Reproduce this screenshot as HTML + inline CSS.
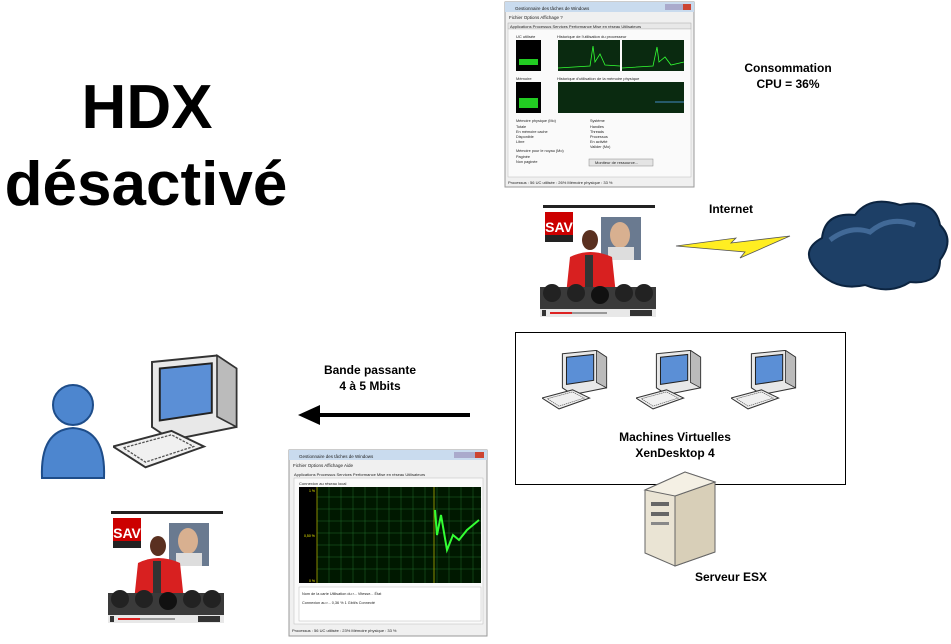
<!DOCTYPE html>
<html><head><meta charset="utf-8"><style>
html,body{margin:0;padding:0;background:#fff;width:951px;height:644px;overflow:hidden}
svg{display:block}
text{font-family:"Liberation Sans",Arial,sans-serif}
</style></head><body>
<svg width="951" height="644" viewBox="0 0 951 644" xmlns="http://www.w3.org/2000/svg">
<defs>
<symbol id="vid" viewBox="0 0 116 116">
<rect x="0" y="0" width="116" height="116" fill="#fff"/>
<rect x="3" y="0" width="112" height="3" fill="#222"/>
<rect x="5" y="7" width="28" height="30" fill="#c00"/>
<text x="19" y="27" font-size="14" font-weight="bold" fill="#fff" text-anchor="middle">SAV</text>
<rect x="5" y="30" width="28" height="7" fill="#222"/>
<rect x="61" y="12" width="40" height="43" fill="#6a7a90"/>
<ellipse cx="80" cy="30" rx="10" ry="13" fill="#d8b090"/>
<rect x="68" y="42" width="26" height="13" fill="#ddd"/>
<ellipse cx="50" cy="35" rx="8" ry="10" fill="#5a3020"/>
<path d="M30 52 Q50 42 72 52 L76 90 L26 90 Z" fill="#d82020"/>
<rect x="45" y="50" width="8" height="40" fill="#333"/>
<rect x="0" y="82" width="116" height="22" fill="#3a3a3a"/>
<circle cx="12" cy="88" r="9" fill="#222"/><circle cx="36" cy="88" r="9" fill="#222"/><circle cx="60" cy="90" r="9" fill="#111"/><circle cx="84" cy="88" r="9" fill="#222"/><circle cx="104" cy="88" r="9" fill="#222"/>
<rect x="0" y="104" width="116" height="8" fill="#e8e8e8"/>
<rect x="10" y="107" width="22" height="2" fill="#d22"/>
<rect x="32" y="107" width="35" height="2" fill="#999"/>
<rect x="90" y="105" width="22" height="6" fill="#333"/>
<rect x="2" y="105" width="4" height="6" fill="#333"/>
</symbol>
<symbol id="pc" viewBox="0 0 100 90">
<path d="M30 5 L80 0 L95 10 L95 55 L45 65 L30 55 Z" fill="#e8e8e8" stroke="#333" stroke-width="1.5"/>
<path d="M36 10 L76 6 L76 44 L36 50 Z" fill="#5b8fd6" stroke="#222" stroke-width="1.5"/>
<path d="M80 0 L95 10 L95 55 L80 47 Z" fill="#bbb" stroke="#333" stroke-width="1.2"/>
<path d="M0 70 L45 58 L70 70 L25 86 Z" fill="#f0f0f0" stroke="#333" stroke-width="1.5"/>
<path d="M8 71 L45 61 L62 70 L25 82 Z" fill="none" stroke="#555" stroke-width="1" stroke-dasharray="2 1"/>
</symbol>
</defs>

<text x="147" y="128" font-size="62" font-weight="bold" text-anchor="middle" fill="#000">HDX</text>
<text x="146" y="205" font-size="62" font-weight="bold" text-anchor="middle" fill="#000">désactivé</text>

<!-- top task manager -->
<g transform="translate(505,2)">
<rect width="189" height="185" fill="#f0f0f0" stroke="#999"/>
<rect width="189" height="10" fill="#c9dbee"/>
<rect x="160" y="2" width="26" height="6" fill="#aac"/><rect x="178" y="2" width="8" height="6" fill="#c43"/>
<text x="10" y="8" font-size="4.5" fill="#222">Gestionnaire des tâches de Windows</text>
<text x="4" y="17" font-size="4.5" fill="#222">Fichier  Options  Affichage  ?</text>
<rect x="3" y="21" width="183" height="6" fill="#e8e8e8" stroke="#aaa" stroke-width="0.5"/>
<text x="5" y="26" font-size="4" fill="#222">Applications  Processus  Services  Performance  Mise en réseau  Utilisateurs</text>
<rect x="3" y="27" width="183" height="148" fill="#fafafa" stroke="#bbb" stroke-width="0.5"/>
<text x="11" y="36" font-size="4" fill="#222">UC utilisée</text>
<text x="52" y="36" font-size="4" fill="#222">Historique de l'utilisation du processeur</text>
<rect x="11" y="38" width="25" height="31" fill="#000"/>
<rect x="14" y="57" width="19" height="6" fill="#2c2"/>
<rect x="53" y="38" width="62" height="31" fill="#0a2a10"/>
<rect x="117" y="38" width="62" height="31" fill="#0a2a10"/>
<polyline points="53,66 85,64 88,44 90,60 95,52 100,63 115,64" fill="none" stroke="#3f3" stroke-width="0.8"/>
<polyline points="117,66 148,64 152,45 154,60 160,55 166,63 179,60" fill="none" stroke="#3f3" stroke-width="0.8"/>
<text x="11" y="78" font-size="4" fill="#222">Mémoire</text>
<text x="52" y="78" font-size="4" fill="#222">Historique d'utilisation de la mémoire physique</text>
<rect x="11" y="80" width="25" height="31" fill="#000"/>
<rect x="14" y="96" width="19" height="10" fill="#2c2"/>
<rect x="53" y="80" width="126" height="31" fill="#0a2a10"/>
<line x1="150" y1="100" x2="179" y2="100" stroke="#5af" stroke-width="0.8"/>
<g font-size="3.8" fill="#222">
<text x="11" y="120">Mémoire physique (Mo)</text>
<text x="11" y="126">Totale</text><text x="11" y="131">En mémoire cache</text><text x="11" y="136">Disponible</text><text x="11" y="141">Libre</text>
<text x="11" y="150">Mémoire pour le noyau (Mo)</text><text x="11" y="156">Paginée</text><text x="11" y="161">Non paginée</text>
<text x="85" y="120">Système</text><text x="85" y="126">Handles</text><text x="85" y="131">Threads</text><text x="85" y="136">Processus</text><text x="85" y="141">En activité</text><text x="85" y="146">Valider (Mo)</text>
</g>
<rect x="84" y="157" width="64" height="7" fill="#e4e4e4" stroke="#888" stroke-width="0.5"/>
<text x="90" y="162" font-size="4" fill="#222">Moniteur de ressource...</text>
<text x="3" y="182" font-size="4" fill="#222">Processus : 56     UC utilisée : 26%       Mémoire physique : 33 %</text>
</g>

<text x="788" y="72" font-size="12" font-weight="bold" text-anchor="middle">Consommation</text>
<text x="788" y="88" font-size="12" font-weight="bold" text-anchor="middle">CPU = 36%</text>

<use href="#vid" x="540" y="205" width="116" height="116"/>
<use href="#vid" x="108" y="511" width="116" height="116"/>

<text x="731" y="213" font-size="12" font-weight="bold" text-anchor="middle">Internet</text>
<path d="M676 246 L736 238 L731 243 L790 236 L740 258 L745 252 Z" fill="#ffee22" stroke="#555" stroke-width="0.8"/>

<!-- cloud -->
<path d="M815 268 Q800 250 822 238 Q825 212 855 215 Q870 195 900 205 Q935 198 940 225 Q955 240 940 260 Q940 285 910 282 Q890 295 865 285 Q835 292 815 268 Z" fill="#1d3f66" stroke="#0c2440" stroke-width="2"/>
<path d="M830 240 Q850 225 870 232 Q890 215 915 225" fill="none" stroke="#5a86b8" stroke-width="5" opacity="0.6"/>

<text x="370" y="374" font-size="12" font-weight="bold" text-anchor="middle">Bande passante</text>
<text x="370" y="390" font-size="12" font-weight="bold" text-anchor="middle">4 à 5 Mbits</text>
<line x1="318" y1="415" x2="470" y2="415" stroke="#000" stroke-width="4"/>
<path d="M298 415 L320 405 L320 425 Z" fill="#000"/>

<rect x="515.5" y="332.5" width="330" height="152" fill="#fff" stroke="#000"/>
<use href="#pc" x="542" y="350" width="68" height="62"/>
<use href="#pc" x="636" y="350" width="68" height="62"/>
<use href="#pc" x="731" y="350" width="68" height="62"/>
<text x="675" y="441" font-size="12" font-weight="bold" text-anchor="middle">Machines Virtuelles</text>
<text x="675" y="457" font-size="12" font-weight="bold" text-anchor="middle">XenDesktop 4</text>

<!-- server -->
<path d="M645 490 L685 472 L715 482 L715 552 L675 566 L645 553 Z" fill="#eae4d4" stroke="#666"/>
<path d="M675 496 L715 482 L715 552 L675 566 Z" fill="#d8cfb8" stroke="#666"/>
<path d="M645 490 L685 472 L715 482 L675 496 Z" fill="#f4f0e4" stroke="#666"/>
<rect x="651" y="502" width="18" height="4" fill="#666"/><rect x="651" y="512" width="18" height="4" fill="#666"/><rect x="651" y="522" width="18" height="3" fill="#888"/>
<text x="731" y="581" font-size="12" font-weight="bold" text-anchor="middle">Serveur ESX</text>

<!-- person -->
<circle cx="73" cy="405" r="20" fill="#4d86cf" stroke="#1e4d8a" stroke-width="2"/>
<path d="M42 478 Q40 430 73 428 Q106 430 104 478 Z" fill="#4d86cf" stroke="#1e4d8a" stroke-width="2"/>
<use href="#pc" x="113" y="344" width="130" height="140"/>

<!-- bottom task manager -->
<g transform="translate(289,450)">
<rect width="198" height="186" fill="#f0f0f0" stroke="#999"/>
<rect width="198" height="10" fill="#c9dbee"/>
<rect x="165" y="2" width="30" height="6" fill="#aac"/><rect x="186" y="2" width="9" height="6" fill="#c43"/>
<text x="10" y="8" font-size="4.5" fill="#222">Gestionnaire des tâches de Windows</text>
<text x="4" y="17" font-size="4.5" fill="#222">Fichier  Options  Affichage  Aide</text>
<text x="5" y="26" font-size="4" fill="#222">Applications  Processus  Services  Performance  Mise en réseau  Utilisateurs</text>
<rect x="5" y="28" width="189" height="146" fill="#fafafa" stroke="#bbb" stroke-width="0.5"/>
<text x="10" y="35" font-size="4" fill="#222">Connexion au réseau local</text>
<rect x="10" y="37" width="182" height="96" fill="#001800"/>
<g stroke="#1f6a2a" stroke-width="0.5">
<line x1="28" y1="47" x2="192" y2="47"/><line x1="28" y1="59" x2="192" y2="59"/><line x1="28" y1="71" x2="192" y2="71"/><line x1="28" y1="83" x2="192" y2="83"/><line x1="28" y1="95" x2="192" y2="95"/><line x1="28" y1="107" x2="192" y2="107"/><line x1="28" y1="119" x2="192" y2="119"/>
<line x1="40" y1="37" x2="40" y2="133"/><line x1="52" y1="37" x2="52" y2="133"/><line x1="64" y1="37" x2="64" y2="133"/><line x1="76" y1="37" x2="76" y2="133"/><line x1="88" y1="37" x2="88" y2="133"/><line x1="100" y1="37" x2="100" y2="133"/><line x1="112" y1="37" x2="112" y2="133"/><line x1="124" y1="37" x2="124" y2="133"/><line x1="136" y1="37" x2="136" y2="133"/><line x1="148" y1="37" x2="148" y2="133"/><line x1="160" y1="37" x2="160" y2="133"/><line x1="172" y1="37" x2="172" y2="133"/><line x1="184" y1="37" x2="184" y2="133"/>
</g>
<rect x="10" y="37" width="18" height="96" fill="#000"/>
<line x1="28" y1="37" x2="28" y2="133" stroke="#aa0" stroke-width="0.8"/>
<line x1="145" y1="37" x2="145" y2="133" stroke="#aa0" stroke-width="0.8"/>
<polyline points="146,60 148,85 152,65 158,100 164,85 170,90 178,80 184,75 190,70" fill="none" stroke="#3f3" stroke-width="2"/>
<text x="20" y="42" font-size="3.5" fill="#ee0">1 %</text><text x="15" y="87" font-size="3.5" fill="#ee0">0,50 %</text><text x="20" y="132" font-size="3.5" fill="#ee0">0 %</text>
<rect x="10" y="137" width="182" height="34" fill="#fff" stroke="#bbb" stroke-width="0.5"/>
<text x="13" y="145" font-size="3.8" fill="#222">Nom de la carte    Utilisation du r...   Vitesse...   État</text>
<text x="13" y="154" font-size="3.8" fill="#222">Connexion au r...            0,36 %    1 Gbit/s   Connecté</text>
<text x="3" y="182" font-size="4" fill="#222">Processus : 56     UC utilisée : 23%       Mémoire physique : 33 %</text>
</g>
</svg>
</body></html>
